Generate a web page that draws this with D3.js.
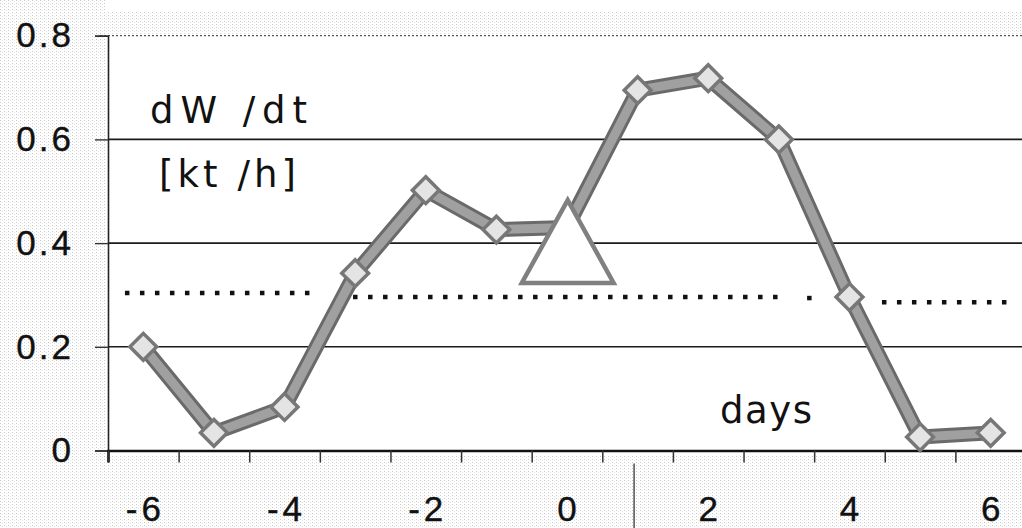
<!DOCTYPE html>
<html>
<head>
<meta charset="utf-8">
<script src="https://cdn.jsdelivr.net/npm/d3@7"></script>
<style>
  html, body { margin: 0; padding: 0; background: #fff; }
  svg { display: block; }
</style>
</head>
<body>
<svg id="chart" width="1022" height="528"></svg>
<script>
// Days relative to the event and the intensification rate dW/dt [kt/h]
const days = [-6, -5, -4, -3, -2, -1, 0, 1, 2, 3, 4, 5, 6];
const rate = [0.20, 0.034, 0.084, 0.342, 0.502, 0.426, 0.43, 0.695, 0.718, 0.60, 0.296, 0.026, 0.034];

// Axis ticks and labels
const yTicks = [0, 0.2, 0.4, 0.6, 0.8];
const yTickLabels = ["0", "0.2", "0.4", "0.6", "0.8"];
const xLabelDays = [-6, -4, -2, 0, 2, 4, 6];
const xTickMarks = [-6.5, -5.5, -4.5, -3.5, -2.5, -1.5, -0.5, 0.5, 1.5, 2.5, 3.5, 4.5, 5.5];

// Dotted reference level, drawn in pieces (start day, end day, level)
const refStart = [-6.26, -3.03, 3.40, 4.46];
const refEnd   = [-3.54, 3.13, 3.47, 6.30];
const refLevel = [0.304, 0.296, 0.294, 0.286];

// Event marker triangle: apex and base corners in (day, rate)
const triDay  = [0.01, -0.64, 0.66];
const triRate = [0.483, 0.323, 0.323];

const svg = d3.select("#chart");
const W = 1022, H = 528;

const x = d3.scaleLinear().domain([-6.5, 6.5]).range([108, 1026]);
const y = d3.scaleLinear().domain([0, 0.8]).range([450.5, 35.7]);

// grainy margin texture
const defs = svg.append("defs");
const pat = defs.append("pattern")
  .attr("id", "grain").attr("width", 4).attr("height", 3)
  .attr("patternUnits", "userSpaceOnUse");
pat.append("rect").attr("width", 4).attr("height", 3).attr("fill", "#fff");
pat.append("rect").attr("x", 0).attr("y", 0).attr("width", 1).attr("height", 1).attr("fill", "#c8c8c8");
pat.append("rect").attr("x", 2).attr("y", 1).attr("width", 1).attr("height", 1).attr("fill", "#e4e4e4");

svg.append("rect").attr("x", 0).attr("y", 0).attr("width", W).attr("height", H).attr("fill", "#fff");
svg.append("rect").attr("x", 0).attr("y", 0).attr("width", x(-6.5) - 3).attr("height", H).attr("fill", "url(#grain)");
svg.append("rect").attr("x", 0).attr("y", y(0) + 5).attr("width", W).attr("height", H - y(0) - 5).attr("fill", "url(#grain)");
svg.append("rect").attr("x", 0).attr("y", 12).attr("width", W).attr("height", y(0.8) - 14).attr("fill", "url(#grain)");

// horizontal gridlines
const grid = svg.append("g");
yTicks.filter(v => v > 0 && v < 0.8).forEach(v => {
  grid.append("line")
    .attr("x1", x(-6.5)).attr("x2", W)
    .attr("y1", y(v)).attr("y2", y(v))
    .attr("stroke", "#1a1a1a").attr("stroke-width", 1.6);
});
grid.append("line")
  .attr("x1", x(-6.5) - 8).attr("x2", W)
  .attr("y1", y(0.8)).attr("y2", y(0.8))
  .attr("stroke", "#555").attr("stroke-width", 1.3)
  .attr("stroke-dasharray", "2 2");

// y axis
const yAxis = d3.axisLeft(y)
  .tickValues(yTicks)
  .tickSize(13)
  .tickPadding(21)
  .tickFormat((d, i) => yTickLabels[i]);
const gy = svg.append("g").attr("transform", `translate(${x(-6.5)},0)`).call(yAxis);
gy.select(".domain").attr("stroke", "#222").attr("stroke-width", 1.6);
gy.selectAll(".tick line").attr("stroke", "#333").attr("stroke-width", 1.4);
gy.selectAll(".tick text")
  .attr("font-family", "'Liberation Sans', Arial, sans-serif")
  .attr("font-size", 35)
  .attr("letter-spacing", 3)
  .attr("stroke", "#111").attr("stroke-width", 0.4)
  .attr("fill", "#111");

// x axis: tick marks between days, labels on even days
const xAxis = d3.axisBottom(x)
  .tickValues(xTickMarks)
  .tickSize(12)
  .tickFormat("");
const gx = svg.append("g").attr("transform", `translate(0,${y(0)})`).call(xAxis);
gx.select(".domain").attr("stroke", "#111").attr("stroke-width", 2.6);
gx.selectAll(".tick line").attr("stroke", "#333").attr("stroke-width", 1.5);

svg.append("g").selectAll("text")
  .data(xLabelDays)
  .join("text")
  .attr("x", d => x(d) + 2)
  .attr("y", 521)
  .attr("text-anchor", "middle")
  .attr("font-family", "'Liberation Sans', Arial, sans-serif")
  .attr("font-size", 35)
  .attr("letter-spacing", 4)
  .attr("stroke", "#111").attr("stroke-width", 0.4)
  .attr("fill", "#111")
  .text(d => d);

// thin rule below the axis near day 1
svg.append("line")
  .attr("x1", x(0.95)).attr("x2", x(0.95))
  .attr("y1", y(0) + 13).attr("y2", H)
  .attr("stroke", "#444").attr("stroke-width", 1.4);

// dotted reference level
svg.append("g").selectAll("line")
  .data(refLevel)
  .join("line")
  .attr("x1", (d, i) => x(refStart[i]))
  .attr("x2", (d, i) => x(refEnd[i]))
  .attr("y1", d => y(d))
  .attr("y2", d => y(d))
  .attr("stroke", "#111")
  .attr("stroke-width", 4.5)
  .attr("stroke-dasharray", "4.5 10.5");

// the rate curve: dark rim with lighter core
const pts = days.map((d, i) => [d, rate[i]]);
const line = d3.line().x(d => x(d[0])).y(d => y(d[1]));
svg.append("path").datum(pts).attr("d", line)
  .attr("fill", "none").attr("stroke", "#6a6a6a").attr("stroke-width", 15)
  .attr("stroke-linejoin", "round");
svg.append("path").datum(pts).attr("d", line)
  .attr("fill", "none").attr("stroke", "#a0a0a0").attr("stroke-width", 9)
  .attr("stroke-linejoin", "round");

// diamond markers
const diamond = d3.symbol().type(d3.symbolSquare).size(360);
svg.append("g").selectAll("path")
  .data(pts)
  .join("path")
  .attr("d", diamond)
  .attr("transform", d => `translate(${x(d[0])},${y(d[1])}) rotate(45)`)
  .attr("fill", "#e4e4e4")
  .attr("stroke", "#777")
  .attr("stroke-width", 3.5);

// event triangle
const tri = triDay.map((d, i) => [x(d), y(triRate[i])]);
svg.append("path")
  .attr("d", "M" + tri.map(p => p.join(",")).join("L") + "Z")
  .attr("fill", "#fff")
  .attr("stroke", "#808080")
  .attr("stroke-width", 4.5)
  .attr("stroke-linejoin", "miter");

// annotation texts
const ann = svg.append("g")
  .attr("font-family", "'DejaVu Sans', Verdana, sans-serif")
  .attr("font-size", 37)
  .attr("fill", "#111");
ann.append("text").attr("x", 150).attr("y", 123)
  .attr("textLength", 157).attr("lengthAdjust", "spacing").text("dW /dt");
ann.append("text").attr("x", 159).attr("y", 187)
  .attr("textLength", 137).attr("lengthAdjust", "spacing").text("[kt /h]");
ann.append("text").attr("x", 720).attr("y", 423)
  .attr("textLength", 92).attr("lengthAdjust", "spacing").text("days");
</script>
</body>
</html>
